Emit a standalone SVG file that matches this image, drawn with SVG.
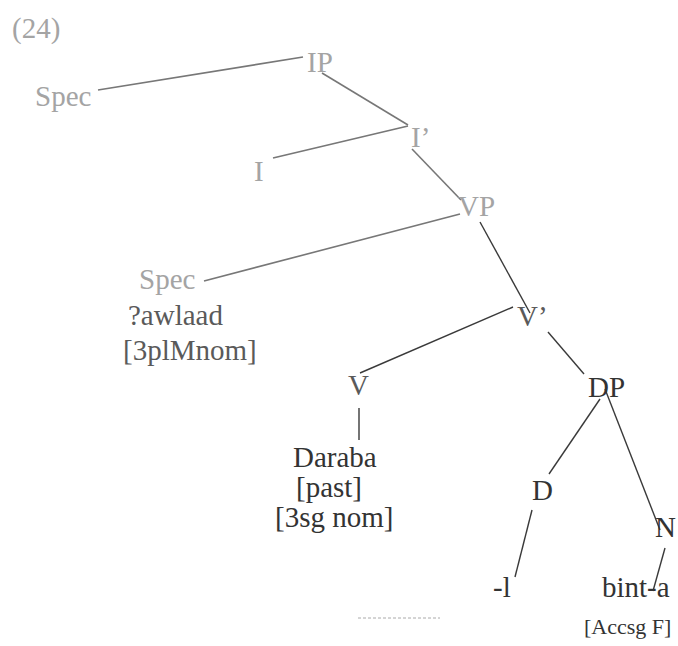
<svg xmlns="http://www.w3.org/2000/svg" width="678" height="646" viewBox="0 0 678 646">
<style>
text{font-family:"Liberation Serif","Times New Roman","DejaVu Serif",serif;font-size:29px}
text.small{font-size:22px}
.faint{fill:#a4a4a4}
.mid{fill:#5a5a5a}
.dark{fill:#333}
.lf{stroke:#777;stroke-width:1.6;fill:none}
.ld{stroke:#3a3a3a;stroke-width:1.4;fill:none}
</style>
<rect width="678" height="646" fill="#fff"/>
<text class="faint" x="12" y="38" id="label24">(24)</text>
<g id="connectors">
<line class="lf" x1="98" y1="90" x2="303" y2="57"/>
<line class="lf" x1="322" y1="73" x2="408" y2="125"/>
<line class="lf" x1="408" y1="126" x2="273" y2="158"/>
<line class="lf" x1="412" y1="149" x2="461" y2="200"/>
<line class="lf" x1="460" y1="214" x2="204" y2="281"/>
<line class="ld" x1="480" y1="222" x2="530" y2="313"/>
<line class="ld" x1="513" y1="307" x2="360" y2="373"/>
<line class="ld" x1="359" y1="408" x2="359" y2="440"/>
<line class="ld" x1="548" y1="332" x2="584" y2="374"/>
<line class="ld" x1="600" y1="399" x2="549" y2="474"/>
<line class="ld" x1="605" y1="389" x2="660" y2="530"/>
<line class="ld" x1="532" y1="510" x2="515" y2="577"/>
<line class="ld" x1="665" y1="548" x2="653" y2="591"/>
<line x1="358" y1="618" x2="440" y2="618" stroke="#aaa" stroke-width="1" stroke-dasharray="3 2"/>
</g>
<g id="IP"><text class="faint" x="307" y="72">IP</text></g>
<g id="SpecIP"><text class="faint" x="35" y="106">Spec</text></g>
<g id="Ibar"><text class="faint" x="411" y="147">I’</text></g>
<g id="I"><text class="faint" x="254" y="181">I</text></g>
<g id="VP"><text class="faint" x="458" y="216">VP</text></g>
<g id="SpecVP">
<text class="faint" x="139" y="289">Spec</text>
<text class="mid" x="128" y="325">?awlaad</text>
<text class="mid" x="123" y="360">[3plMnom]</text>
</g>
<g id="Vbar"><text class="mid" x="517" y="326">V’</text></g>
<g id="V"><text class="mid" x="348" y="395">V</text></g>
<g id="Daraba">
<text class="dark" x="293" y="467">Daraba</text>
<text class="dark" x="296" y="497">[past]</text>
<text class="dark" x="275" y="527">[3sg nom]</text>
</g>
<g id="DP"><text class="dark" x="588" y="397">DP</text></g>
<g id="D"><text class="dark" x="532" y="500">D</text></g>
<g id="N"><text class="dark" x="655" y="537">N</text></g>
<g id="l"><text class="dark" x="493" y="597">-l</text></g>
<g id="binta">
<text class="dark" x="602" y="597">bint-a</text>
<text class="dark small" x="584" y="634">[Accsg F]</text>
</g>
</svg>
